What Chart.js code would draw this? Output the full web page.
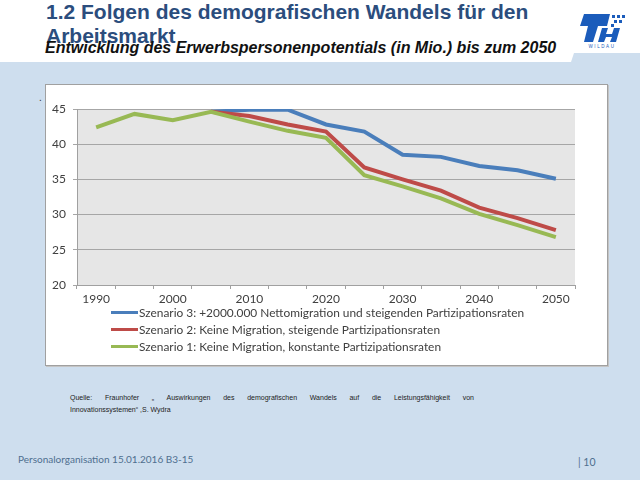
<!DOCTYPE html>
<html>
<head>
<meta charset="utf-8">
<script src="https://cdn.jsdelivr.net/npm/chart.js@4"></script>
<style>
  html, body { margin: 0; padding: 0; }
  body { width: 640px; height: 480px; position: relative; overflow: hidden; background: #cedeee; font-family: "Liberation Sans", Arial, sans-serif; }
  .head { position: absolute; left: 0; top: 0; width: 640px; height: 62px; background: #fff;
          clip-path: polygon(0 0, 640px 0, 640px 53px, 574px 53px, 571px 62px, 0 62px); }
  .title { position: absolute; left: 46px; top: 0px; width: 530px; font-size: 21px; line-height: 24px; font-weight: bold; color: #2b4d7d; }
  .subtitle { position: absolute; left: 45px; top: 39px; font-size: 16px; font-weight: bold; font-style: italic; color: #111; white-space: nowrap; }
  .logo { position: absolute; left: 576px; top: 12px; }
  .box { position: absolute; left: 45px; top: 84px; width: 561px; height: 280px; background: #fff; border: 1px solid #a0a0a0; box-shadow: 1px 1px 0 #c4c4c4; }
  .dot { position: absolute; left: 39px; top: 92px; font-size: 10px; color: #333; }
  #wrap { position: absolute; left: 46px; top: 85px; width: 554px; height: 222px; }
  #legend { position: absolute; left: 111px; top: 304px; font-family: Lato, "Open Sans", sans-serif; font-size: 11.9px; color: #404040; }
  #legend div { height: 17px; line-height: 17px; white-space: nowrap; }
  #legend span { display: inline-block; width: 27px; height: 3px; vertical-align: middle; margin-right: 1px; position: relative; top: -1px; }
  .source { position: absolute; left: 70px; top: 392px; width: 404px; font-size: 7px; line-height: 12px; color: #222; }
  .source .l1 { text-align: justify; text-align-last: justify; white-space: nowrap; }
  .footer { position: absolute; left: 18px; top: 453px; font-family: Lato, sans-serif; font-size: 10px; color: #4f6f8f; }
  .page { position: absolute; left: 578px; top: 456px; font-family: Lato, sans-serif; font-size: 10.5px; color: #4f6f8f; }
</style>
</head>
<body>
<div class="head"></div>
<div class="title">1.2 Folgen des demografischen Wandels für den Arbeitsmarkt</div>
<div class="subtitle">Entwicklung des Erwerbspersonenpotentials (in Mio.) bis zum 2050</div>
<svg class="logo" width="50" height="36" viewBox="0 0 50 36">
  <polygon points="8,2 34,2 31,14 22,14 17,30 8,30 12,14 4,14" fill="#1b5cbb"/>
  <polygon points="26,16 32,16 30,22 36,22 38,16 44,16 40,30 34,30 36,25 30,25 28,30 22,30" fill="#1b5cbb"/>
  <rect x="36" y="3" width="3" height="3" fill="#1b5cbb"/><rect x="41" y="3" width="3" height="3" fill="#1b5cbb"/>
  <rect x="46" y="3" width="3" height="3" fill="#1b5cbb"/><rect x="38" y="8" width="3" height="3" fill="#1b5cbb"/>
  <rect x="43" y="8" width="3" height="3" fill="#1b5cbb"/><rect x="35" y="12" width="3" height="3" fill="#1b5cbb"/>
  <text x="26" y="35.5" font-size="4.5" font-family="Liberation Sans" fill="#1b5cbb" text-anchor="middle" letter-spacing="1.6">WILDAU</text>
</svg>
<div class="box"></div>
<div class="dot">.</div>
<div id="wrap"><canvas id="chart"></canvas></div>
<div id="legend"></div>
<div class="source">
  <div class="l1">Quelle: Fraunhofer „ Auswirkungen des demografischen Wandels auf die Leistungsfähigkeit von</div>
  <div>Innovationssystemen“ ,S. Wydra</div>
</div>
<div class="footer">Personalorganisation 15.01.2016 B3-15</div>
<div class="page">| 10</div>

<script>
// Kategorien (5-Jahres-Schritte)
const years = ['1990', '1995', '2000', '2005', '2010', '2015', '2020', '2025', '2030', '2035', '2040', '2045', '2050'];

// Erwerbspersonenpotential in Mio.
const szenario3 = [null, null, null, 44.6, 44.9, 44.9, 42.8, 41.8, 38.5, 38.2, 36.9, 36.3, 35.1];
const szenario2 = [null, null, null, 44.6, 44.0, 42.8, 41.8, 36.7, 35.0, 33.4, 31.0, 29.5, 27.8];
const szenario1 = [42.4, 44.3, 43.4, 44.6, 43.2, 41.9, 40.9, 35.6, 34.0, 32.3, 30.1, 28.5, 26.8];

const seriesNames = [
    'Szenario 3: +2000.000 Nettomigration und steigenden Partizipationsraten',
    'Szenario 2: Keine Migration, steigende Partizipationsraten',
    'Szenario 1: Keine Migration, konstante Partizipationsraten'
];
const seriesColors = ['#4a7ebb', '#be4b48', '#98b954'];

const yTicks = [20, 25, 30, 35, 40, 45];

// grauer Hintergrund der Zeichenfläche
const plotBg = {
    id: 'plotBg',
    beforeDraw(chart) {
        const a = chart.chartArea;
        const ctx = chart.ctx;
        ctx.save();
        ctx.fillStyle = '#e6e6e6';
        ctx.fillRect(a.left, a.top, a.right - a.left, a.bottom - a.top);
        ctx.restore();
    }
};

const seriesData = [szenario3, szenario2, szenario1];

const ctx = document.getElementById('chart').getContext('2d');
const chart = new Chart(ctx, {
    type: 'line',
    data: {
        labels: years,
        datasets: seriesData.map((d, i) => ({
            label: seriesNames[i],
            data: d,
            borderColor: seriesColors[i],
            backgroundColor: seriesColors[i],
            borderWidth: 4,
            pointRadius: 0,
            tension: 0,
            // Szenario 1 liegt oben
            order: 3 - i
        }))
    },
    options: {
        responsive: true,
        maintainAspectRatio: false,
        animation: false,
        layout: { padding: { top: 24, right: 25, left: 0, bottom: 0 } },
        plugins: {
            legend: { display: false },
            tooltip: { enabled: false }
        },
        scales: {
            x: {
                offset: true,
                grid: { offset: true, drawOnChartArea: false, drawTicks: true, tickLength: 4, color: '#a0a0a0' },
                border: { color: '#a0a0a0' },
                ticks: {
                    autoSkip: false,
                    maxRotation: 0,
                    padding: 3,
                    color: '#404040',
                    font: { family: 'Lato', size: 12 },
                    callback: (v, i) => (i % 2 === 0 ? years[i] : '')
                },
                afterFit: s => { s.height = 22; }
            },
            y: {
                min: yTicks[0],
                max: yTicks[yTicks.length - 1],
                afterBuildTicks: s => { s.ticks = yTicks.map(v => ({ value: v })); },
                grid: { color: '#a6a6a6', tickLength: 4 },
                border: { color: '#a0a0a0' },
                ticks: {
                    padding: 7,
                    color: '#404040',
                    font: { family: 'Lato', size: 12 }
                },
                afterFit: s => { s.width = 31; }
            }
        }
    },
    plugins: [plotBg]
});

// Legende untereinander
const legend = document.getElementById('legend');
seriesNames.forEach((name, i) => {
    const row = document.createElement('div');
    const line = document.createElement('span');
    line.style.background = seriesColors[i];
    row.appendChild(line);
    row.appendChild(document.createTextNode(name));
    legend.appendChild(row);
});
</script>
</body>
</html>
